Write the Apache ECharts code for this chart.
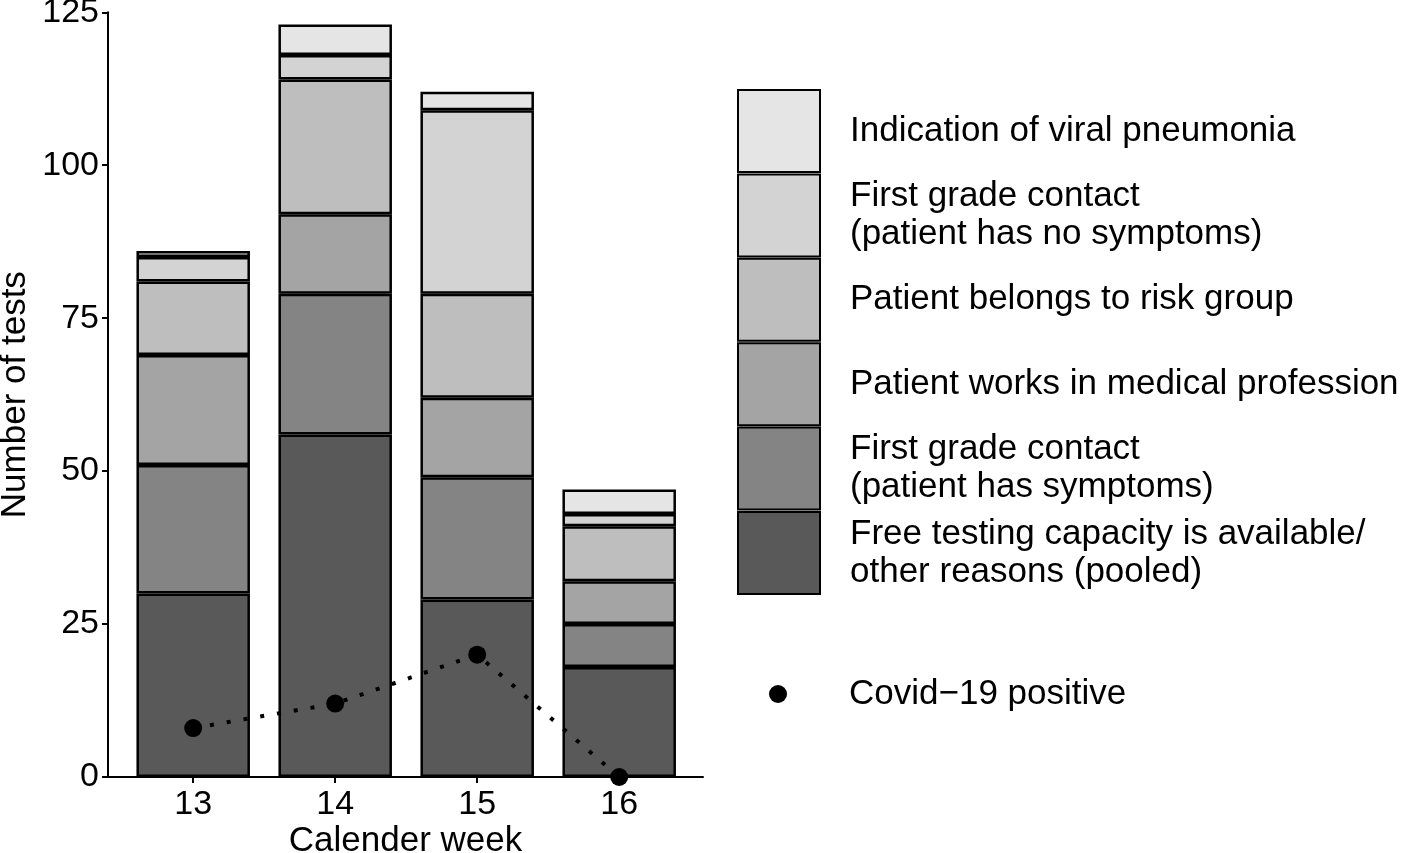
<!DOCTYPE html>
<html>
<head>
<meta charset="utf-8">
<script src="https://cdn.jsdelivr.net/npm/echarts@6/dist/echarts.min.js"></script>
<style>
html,body{margin:0;padding:0;background:#fff;}
#chart{width:1405px;height:853px;}
</style>
</head>
<body>
<div id="chart"></div>
<script>
// Calendar weeks (x categories)
const weeks = ['13', '14', '15', '16'];
// Stacked series, bottom to top
const freeCapacity   = [30, 56, 29, 18];
const contactSympt   = [21, 23, 20, 7];
const medicalProf    = [18, 13, 13, 7];
const riskGroup      = [12, 22, 17, 9];
const contactNoSympt = [4, 4, 30, 2];
const viralPneumonia = [1, 5, 3, 4];
// Covid-19 positive counts
const covidPositive  = [8, 12, 20, 0];
// Y axis ticks
const yTicks = [0, 25, 50, 75, 100, 125];

const seriesNames = [
  'Free testing capacity is available/\nother reasons (pooled)',
  'First grade contact\n(patient has symptoms)',
  'Patient works in medical profession',
  'Patient belongs to risk group',
  'First grade contact\n(patient has no symptoms)',
  'Indication of viral pneumonia'
];
const seriesValues = [freeCapacity, contactSympt, medicalProf, riskGroup, contactNoSympt, viralPneumonia];
const fills = ['#595959', '#848484', '#a4a4a4', '#bebebe', '#d3d3d3', '#e5e5e5'];
const covidName = 'Covid\u221219 positive';

const FONT = 'Liberation Sans, Arial, sans-serif';
const FS = 34;
const FSL = 35;

const barSeries = seriesNames.map((name, k) => ({
  name: name,
  type: 'bar',
  stack: 'tests',
  xAxisIndex: 1,
  yAxisIndex: 1,
  barWidth: 113.5,
  data: seriesValues[k],
  itemStyle: { color: fills[k], borderColor: '#000', borderWidth: 2.5 },
  z: 2
}));

const lineSeries = {
  name: covidName,
  type: 'line',
  xAxisIndex: 1,
  yAxisIndex: 1,
  data: covidPositive,
  symbol: 'circle',
  symbolSize: 18,
  itemStyle: { color: '#000' },
  lineStyle: { color: '#000', width: 4, type: [4, 13], cap: 'butt' },
  z: 5
};

const chart = echarts.init(document.getElementById('chart'));
chart.setOption({
  animation: false,
  textStyle: { fontFamily: FONT },
  grid: [
    { left: 108, right: 702, top: 12.3, bottom: 76, containLabel: false, outerBoundsMode: 'none' },
    { left: 122.2, right: 714.8, top: 12.3, bottom: 76, containLabel: false, outerBoundsMode: 'none' }
  ],
  xAxis: [
    {
      gridIndex: 0,
      type: 'value',
      min: 0,
      max: 1,
      name: 'Calender week',
      nameLocation: 'middle',
      nameGap: 47,
      nameTextStyle: { fontSize: FSL, color: '#000', fontFamily: FONT },
      splitLine: { show: false },
      axisLine: { show: true, lineStyle: { color: '#000', width: 2 } },
      axisTick: { show: false },
      axisLabel: { show: false }
    },
    {
      gridIndex: 1,
      type: 'category',
      data: weeks,
      boundaryGap: true,
      axisLine: { show: false },
      axisTick: { show: true, alignWithLabel: true, length: 6, lineStyle: { color: '#000', width: 2 } },
      axisLabel: { fontSize: FS, color: '#000', margin: 11, fontFamily: FONT },
      splitLine: { show: false }
    }
  ],
  yAxis: [
    {
      gridIndex: 0,
      type: 'value',
      min: 0,
      max: 125,
      interval: 25,
      name: 'Number of tests',
      nameLocation: 'middle',
      nameGap: 75,
      nameTextStyle: { fontSize: FSL, color: '#000', fontFamily: FONT },
      splitLine: { show: false },
      axisLine: { show: true, lineStyle: { color: '#000', width: 2 } },
      axisTick: { show: true, length: 6, lineStyle: { color: '#000', width: 2 } },
      axisLabel: {
        fontSize: FS, color: '#000', margin: 9, fontFamily: FONT,
        formatter: v => (yTicks.indexOf(v) >= 0 ? String(v) : '')
      }
    },
    {
      gridIndex: 1,
      type: 'value',
      min: 0,
      max: 125,
      interval: 25,
      show: false,
      splitLine: { show: false }
    }
  ],
  legend: [
    {
      data: seriesNames.slice().reverse(),
      orient: 'vertical',
      left: 737,
      top: 89,
      padding: 0,
      itemWidth: 82,
      itemHeight: 82,
      itemGap: 0.4,
      icon: 'rect',
      selectedMode: false,
      textStyle: { fontSize: FSL, lineHeight: 38, color: '#000', fontFamily: FONT, padding: [0, 0, 0, 25] }
    },
    {
      data: [{ name: covidName, icon: 'circle' }],
      orient: 'vertical',
      left: 769,
      top: 675,
      padding: 0,
      itemWidth: 18,
      itemHeight: 18,
      selectedMode: false,
      textStyle: { fontSize: FSL, lineHeight: 38, color: '#000', fontFamily: FONT, padding: [0, 0, 0, 57] }
    }
  ],
  series: barSeries.concat([lineSeries])
});
</script>
</body>
</html>
